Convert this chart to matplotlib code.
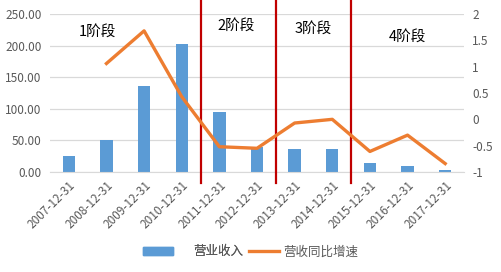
import numpy as np
import matplotlib.pyplot as plt
from matplotlib.patches import Patch
from matplotlib.lines import Line2D

plt.rcParams['font.family'] = ['Noto Sans CJK SC', 'DejaVu Sans']

# data
years = ['2007-12-31', '2008-12-31', '2009-12-31', '2010-12-31', '2011-12-31', '2012-12-31',
         '2013-12-31', '2014-12-31', '2015-12-31', '2016-12-31', '2017-12-31']
revenue = [26, 51, 136, 203, 95, 39, 36.5, 36.5, 14.5, 10, 3]
growth = [np.nan, 1.06, 1.68, 0.43, -0.52, -0.55, -0.07, 0.0, -0.61, -0.30, -0.84]
stage_splits = [3.5, 5.5, 7.5]
stage_labels = ['1阶段', '2阶段', '3阶段', '4阶段']
stage_label_x = [0.75, 4.45, 6.5, 9.0]
stage_label_y = [222, 232, 226, 214]

bar_col = '#5B9BD5'
line_col = '#ED7D31'
grey = '#595959'

fig = plt.figure(figsize=(5.01, 2.72), dpi=100)
W, H = 501, 272
ax = fig.add_axes([50 / W, 1 - 172 / H, 414 / W, 158 / H])
ax2 = ax.twinx()

x = np.arange(len(years))
ax.bar(x, revenue, width=0.33, color=bar_col, zorder=2)
ax2.plot(x, growth, color=line_col, lw=2.4, zorder=3)

ax.set_xlim(-0.5, len(years) - 0.5)
ax.set_ylim(0, 250)
ax.set_yticks(np.arange(0, 251, 50))
ax.set_yticklabels(['%.2f' % v for v in np.arange(0, 251, 50)])
ax2.set_ylim(-1, 2)
ax2.set_yticks(np.arange(-1, 2.01, 0.5))
ax2.set_yticklabels(['-1', '-0.5', '0', '0.5', '1', '1.5', '2'])

ax.grid(axis='y', color='#D9D9D9', lw=0.9, zorder=0)
ax.set_axisbelow(True)
for a in (ax, ax2):
    for s in a.spines.values():
        s.set_visible(False)
ax.spines['bottom'].set_visible(True)
ax.spines['bottom'].set_color('#D9D9D9')

ax.set_xticks(x)
ax.set_xticklabels(years, rotation=45, ha='right', rotation_mode='anchor')
ax.tick_params(axis='x', length=0, labelsize=8.5, labelcolor=grey, pad=5)
ax.tick_params(axis='y', length=0, labelsize=8.5, labelcolor=grey, pad=6)
ax2.tick_params(axis='y', length=0, labelsize=8.5, labelcolor=grey, pad=6)

# stage dividers
for sx in stage_splits:
    ax.plot([sx, sx], [-0.07, 1.09], color='#C00000', lw=1.6,
            transform=ax.get_xaxis_transform(), clip_on=False, zorder=5)
for lab, lx, ly in zip(stage_labels, stage_label_x, stage_label_y):
    ax.text(lx, ly, lab, fontsize=10.5, color='black', ha='center', va='center')

leg1 = fig.legend([Patch(color=bar_col)], ['营业收入'], loc='center left',
                  bbox_to_anchor=(132 / W, 1 - 252 / H), frameon=False, fontsize=9,
                  handlelength=2.4, handleheight=0.6, handletextpad=1.6, labelcolor=grey)
fig.add_artist(leg1)
fig.legend([Line2D([0], [0], color=line_col, lw=2.4)], ['营收同比增速'], loc='center left',
           bbox_to_anchor=(238 / W, 1 - 252 / H), frameon=False, fontsize=9,
           handlelength=2.4, handletextpad=0.3, labelcolor=grey)

fig.savefig('out.png', dpi=100)
